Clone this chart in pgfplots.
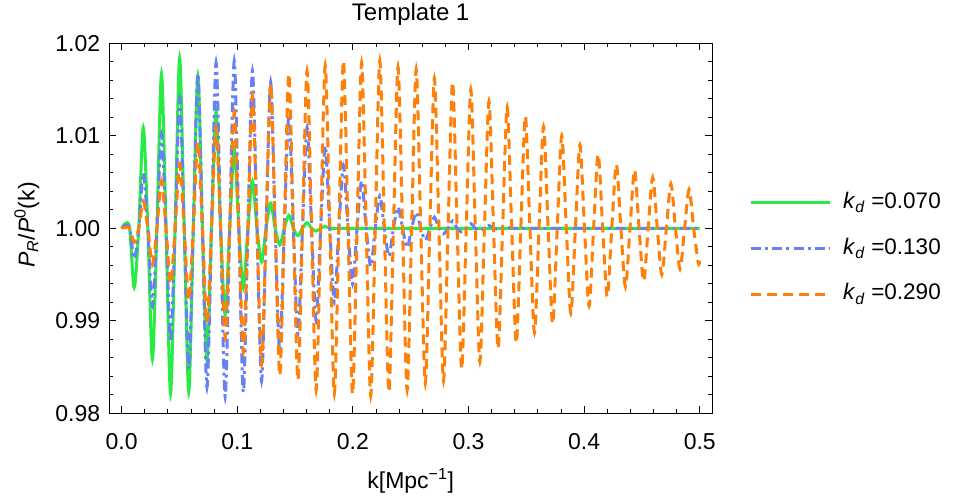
\documentclass[border=0pt]{standalone}
\usepackage{pgfplots}
\usepackage{pgfplotstable}
\pgfplotsset{compat=1.18}
\usepackage{fontspec}
\setmainfont{Liberation Sans}
\definecolor{kgreen}{RGB}{40,235,70}
\definecolor{kblue}{RGB}{102,128,245}
\definecolor{korange}{RGB}{255,128,8}

% k, then P_R/P^0 for k_d = 0.070 (g), 0.130 (b), 0.290 (o)
\pgfplotstableread{
k g b o
0.00000 1.0000 1.0000 1.0000
0.00296 1.0005 1.0003 1.0001
0.00689 1.0000 1.0000 1.0000
0.01083 0.9936 0.9967 0.9985
0.01476 1.0000 1.0000 1.0000
0.01870 1.0109 1.0060 1.0029
0.02263 1.0000 1.0000 1.0000
0.02657 0.9858 0.9916 0.9961
0.03050 1.0000 1.0000 1.0000
0.03443 1.0167 1.0102 1.0051
0.03837 1.0000 1.0000 1.0000
0.04230 0.9821 0.9877 0.9940
0.04624 1.0000 1.0000 1.0000
0.05017 1.0184 1.0140 1.0069
0.05411 1.0000 1.0000 1.0000
0.05804 0.9823 0.9848 0.9922
0.06197 1.0000 1.0000 1.0000
0.06591 1.0165 1.0167 1.0093
0.06984 1.0000 1.0000 1.0000
0.07378 0.9857 0.9828 0.9898
0.07771 1.0000 1.0000 1.0000
0.08165 1.0127 1.0179 1.0109
0.08558 1.0000 1.0000 1.0000
0.08951 0.9907 0.9818 0.9882
0.09345 1.0000 1.0000 1.0000
0.09738 1.0086 1.0181 1.0125
0.10132 1.0000 1.0000 1.0000
0.10525 0.9936 0.9823 0.9866
0.10919 1.0000 1.0000 1.0000
0.11312 1.0051 1.0170 1.0143
0.11705 1.0000 1.0000 1.0000
0.12099 0.9964 0.9835 0.9853
0.12492 1.0000 1.0000 1.0000
0.12886 1.0027 1.0158 1.0156
0.13279 1.0000 1.0000 1.0000
0.13673 0.9982 0.9867 0.9841
0.14066 1.0000 1.0000 1.0000
0.14459 1.0014 1.0122 1.0167
0.14853 1.0000 1.0000 1.0000
0.15246 0.9992 0.9886 0.9836
0.15640 1.0000 1.0000 1.0000
0.16033 1.0006 1.0109 1.0170
0.16427 1.0000 1.0000 1.0000
0.16820 0.9997 0.9900 0.9825
0.17213 1.0000 1.0000 1.0000
0.17607 1.0002 1.0089 1.0176
0.18000 1.0000 1.0000 1.0000
0.18394 1.0000 0.9920 0.9821
0.18787 1.0000 1.0000 1.0000
0.19181 1.0000 1.0068 1.0181
0.19574 1.0000 1.0000 1.0000
0.19967 1.0000 0.9940 0.9821
0.20361 1.0000 1.0000 1.0000
0.20754 1.0000 1.0051 1.0179
0.21148 1.0000 1.0000 1.0000
0.21541 1.0000 0.9959 0.9819
0.21935 1.0000 1.0000 1.0000
0.22328 1.0000 1.0035 1.0181
0.22721 1.0000 1.0000 1.0000
0.23115 1.0000 0.9970 0.9823
0.23508 1.0000 1.0000 1.0000
0.23902 1.0000 1.0023 1.0174
0.24295 1.0000 1.0000 1.0000
0.24689 1.0000 0.9979 0.9825
0.25082 1.0000 1.0000 1.0000
0.25475 1.0000 1.0017 1.0172
0.25869 1.0000 1.0000 1.0000
0.26262 1.0000 0.9987 0.9832
0.26656 1.0000 1.0000 1.0000
0.27049 1.0000 1.0012 1.0162
0.27443 1.0000 1.0000 1.0000
0.27836 1.0000 0.9994 0.9835
0.28229 1.0000 1.0000 1.0000
0.28623 1.0000 1.0008 1.0158
0.29016 1.0000 1.0000 1.0000
0.29410 1.0000 0.9996 0.9848
0.29803 1.0000 1.0000 1.0000
0.30197 1.0000 1.0005 1.0150
0.30590 1.0000 1.0000 1.0000
0.30983 1.0000 0.9998 0.9856
0.31377 1.0000 1.0000 1.0000
0.31770 1.0000 1.0003 1.0137
0.32164 1.0000 1.0000 1.0000
0.32557 1.0000 0.9999 0.9870
0.32951 1.0000 1.0000 1.0000
0.33344 1.0000 1.0001 1.0131
0.33737 1.0000 1.0000 1.0000
0.34131 1.0000 1.0000 0.9876
0.34524 1.0000 1.0000 1.0000
0.34918 1.0000 1.0000 1.0121
0.35311 1.0000 1.0000 1.0000
0.35705 1.0000 1.0000 0.9887
0.36098 1.0000 1.0000 1.0000
0.36491 1.0000 1.0000 1.0110
0.36885 1.0000 1.0000 1.0000
0.37278 1.0000 1.0000 0.9897
0.37672 1.0000 1.0000 1.0000
0.38065 1.0000 1.0000 1.0100
0.38459 1.0000 1.0000 1.0000
0.38852 1.0000 1.0000 0.9908
0.39245 1.0000 1.0000 1.0000
0.39639 1.0000 1.0000 1.0090
0.40032 1.0000 1.0000 1.0000
0.40426 1.0000 1.0000 0.9916
0.40819 1.0000 1.0000 1.0000
0.41213 1.0000 1.0000 1.0080
0.41606 1.0000 1.0000 1.0000
0.41999 1.0000 1.0000 0.9926
0.42393 1.0000 1.0000 1.0000
0.42786 1.0000 1.0000 1.0069
0.43180 1.0000 1.0000 1.0000
0.43573 1.0000 1.0000 0.9937
0.43967 1.0000 1.0000 1.0000
0.44360 1.0000 1.0000 1.0063
0.44753 1.0000 1.0000 1.0000
0.45147 1.0000 1.0000 0.9943
0.45540 1.0000 1.0000 1.0000
0.45934 1.0000 1.0000 1.0055
0.46327 1.0000 1.0000 1.0000
0.46721 1.0000 1.0000 0.9950
0.47114 1.0000 1.0000 1.0000
0.47507 1.0000 1.0000 1.0048
0.47901 1.0000 1.0000 1.0000
0.48294 1.0000 1.0000 0.9956
0.48688 1.0000 1.0000 1.0000
0.49081 1.0000 1.0000 1.0042
0.49475 1.0000 1.0000 1.0000
0.49868 1.0000 1.0000 0.9963
0.50000 1.0000 1.0000 0.99645
}\templ

\begin{document}
\begin{tikzpicture}
\path[use as bounding box] (0,0) rectangle (956bp,504bp);
\begin{axis}[
  at={(109.3bp,90.7bp)}, anchor=south west,
  width=602.7bp, height=370bp, scale only axis,
  xmin=-0.0107, xmax=0.5106, ymin=0.98, ymax=1.02,
  xtick={0,0.1,0.2,0.3,0.4,0.5},
  ytick={0.98,0.99,1,1.01,1.02},
  minor x tick num=4, minor y tick num=4,
  tick align=inside, tick pos=both,
  major tick length=7bp, minor tick length=4bp,
  every tick/.style={black, line width=0.9bp},
  axis line style={line width=1bp},
  /pgf/number format/assume math mode=true,
  tick label style={font=\fontsize{23bp}{27bp}\selectfont},
  xticklabel style={/pgf/number format/.cd, fixed, fixed zerofill, precision=1,
    /tikz/.cd, anchor=base, yshift=-36.5bp},
  yticklabel style={/pgf/number format/.cd, fixed, fixed zerofill, precision=2,
    /tikz/.cd, anchor=east, inner sep=0pt, xshift=-9bp},
  title={Template 1},
  title style={at={(axis description cs:0.5,1)}, anchor=base, yshift=16.6bp,
    font=\fontsize{24bp}{28bp}\selectfont},
  xlabel={k[Mpc\textsuperscript{−1}]},
  xlabel style={at={(axis description cs:0.5,0)}, anchor=base, yshift=-75.5bp,
    font=\fontsize{23bp}{27bp}\selectfont},
  ylabel={\textit{P}\textsubscript{\textit{R}}/\textit{P}\textsuperscript{0}(k)},
  ylabel style={at={(axis description cs:-0.1366,0.509)}, anchor=center,
    font=\fontsize{23bp}{27bp}\selectfont},
  legend style={at={(axis description cs:1.0614,0.4459)}, anchor=west,
    draw=none, fill=none, inner sep=0pt, row sep=25.2bp,
    font=\fontsize{22.5bp}{26bp}\selectfont,
    nodes={inner sep=0pt, text height=16bp, text depth=4.5bp}},
  legend cell align=left,
  legend image code/.code={\draw[#1] (0bp,0bp) -- (79bp,0bp); \path (91bp,0bp);},
]
\addplot[kgreen, line width=3bp, smooth] table[x=k, y=g] {\templ};
\addlegendentry{\textit{k}\textsubscript{\textit{d}} =0.070}
\addplot[kblue, line width=3bp, smooth, dash pattern=on 10bp off 4bp on 3bp off 4.5bp] table[x=k, y=b] {\templ};
\addlegendentry{\textit{k}\textsubscript{\textit{d}} =0.130}
\addplot[korange, line width=3bp, smooth, dash pattern=on 10bp off 6bp] table[x=k, y=o] {\templ};
\addlegendentry{\textit{k}\textsubscript{\textit{d}} =0.290}
\end{axis}
\end{tikzpicture}
\end{document}
